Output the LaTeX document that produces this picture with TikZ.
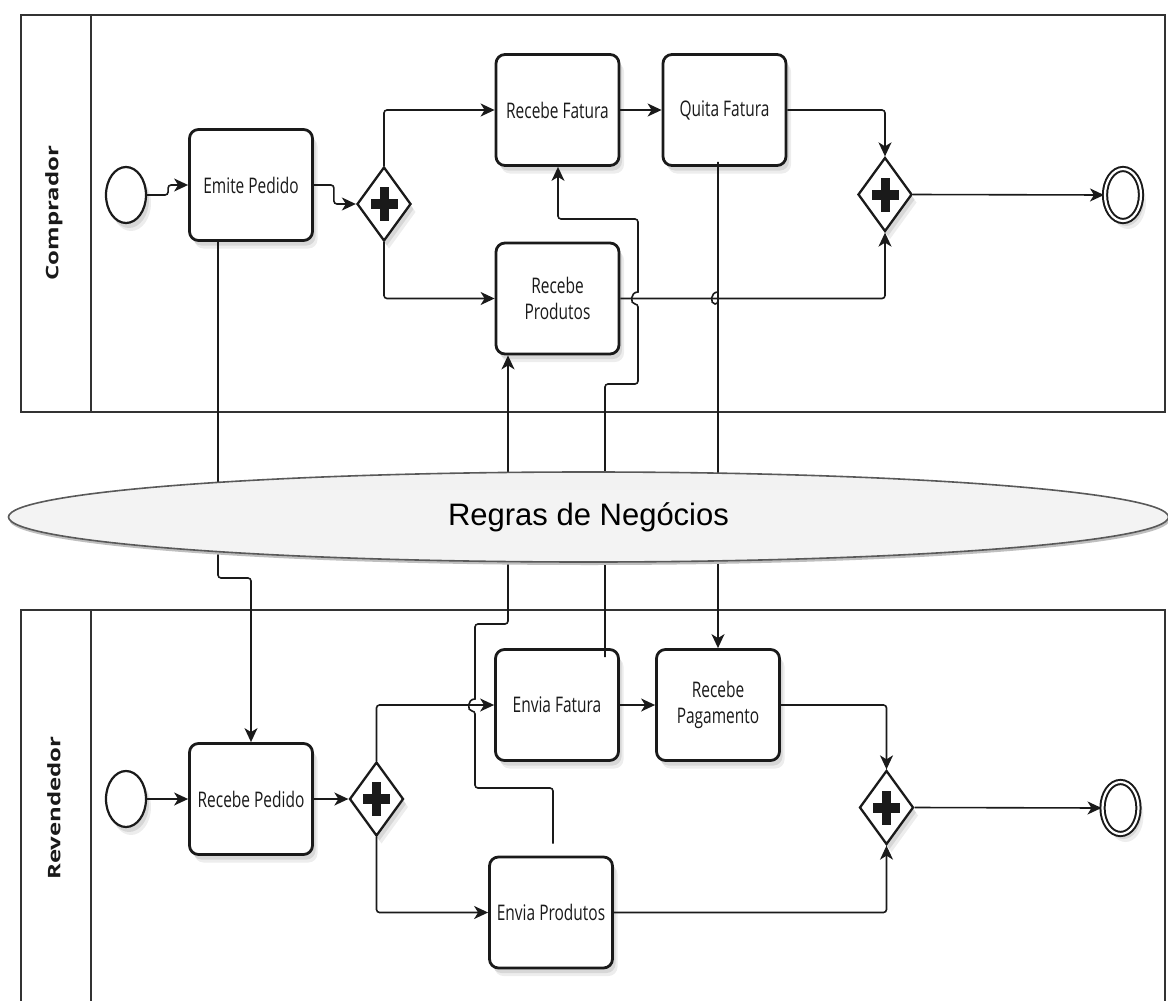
\documentclass[tikz,border=0pt]{standalone}
\usepackage{fontspec}
\usepackage{graphicx}
\usetikzlibrary{shapes.geometric,arrows.meta,shadows}
\newfontfamily\osans{Open Sans}
\newfontfamily\arialf{Liberation Sans}
\newcommand{\tk}[1]{\scalebox{0.72}[1]{#1}}
\newcommand{\lk}[1]{\scalebox{1}[0.72]{#1}}
\definecolor{ink}{HTML}{1A1A1A}
\begin{document}
\begin{tikzpicture}[x=1pt,y=-1pt,
  softshadow/.style={drop shadow={shadow xshift=5pt,shadow yshift=-8pt,opacity=0.07,fill=black},
                     drop shadow={shadow xshift=3pt,shadow yshift=-5pt,opacity=0.09,fill=black}},
  task/.style={draw=ink,line width=2.8pt,rounded corners=9pt,fill=white,
    minimum width=123pt,minimum height=111pt,inner sep=0pt,align=center,
    font=\osans\fontsize{21.5}{26}\selectfont,text=ink,softshadow},
  gw/.style={diamond,draw=ink,line width=2.3pt,fill=white,minimum width=54pt,
    minimum height=74pt,inner sep=0pt,softshadow},
  startev/.style={ellipse,draw=ink,line width=2.2pt,fill=white,minimum width=40pt,
    minimum height=56pt,inner sep=0pt,softshadow},
  endev/.style={ellipse,draw=ink,line width=2pt,double=white,double distance=2.2pt,
    fill=white,minimum width=36pt,minimum height=52pt,inner sep=0pt,softshadow},
  flow/.style={draw=ink,line width=1.6pt,rounded corners=3pt,
    -{Stealth[length=14pt,width=13pt,inset=4pt]}},
  lane/.style={draw=black!80,line width=1.5pt},
  lanelabel/.style={rotate=90,font=\osans\bfseries\fontsize{24}{26}\selectfont,text=ink}
]
\path[use as bounding box] (0,0) rectangle (1168,1001);
\clip (0,0) rectangle (1168,1001);
\fill[white] (0,0) rectangle (1168,1001);

% lanes
\draw[lane] (21,15) rectangle (1165,412);
\draw[lane] (91,15) -- (91,412);
\draw[lane] (21,1010) -- (21,610) -- (1165,610) -- (1165,1010);
\draw[lane] (91,610) -- (91,1010);
\node[lanelabel] (lcomp) at (54,213) {\lk{Comprador}};
\node[lanelabel] (lrev) at (54,808) {\lk{Revendedor}};

% top lane nodes
\node[startev] (s1) at (126,195) {};
\node[task] (emite) at (251,185) {\tk{Emite Pedido}};
\node[gw] (g1) at (384,204) {};
\node[task] (recfat) at (557.5,110) {\tk{Recebe Fatura}};
\node[task] (quita) at (724.5,110) {\tk{Quita Fatura}};
\node[task] (recprod) at (557.5,298.5) {\tk{Recebe}\\\tk{Produtos}};
\node[gw] (g2) at (885,194.5) {};
\node[endev] (e1) at (1123,195) {};

% bottom lane nodes
\node[startev] (s2) at (126,799) {};
\node[task] (recped) at (251,799) {\tk{Recebe Pedido}};
\node[gw] (g3) at (376.5,799) {};
\node[task] (envfat) at (557,705) {\tk{Envia Fatura}};
\node[task] (recpag) at (718,705) {\tk{Recebe}\\\tk{Pagamento}};
\node[task] (envprod) at (551,912.5) {\tk{Envia Produtos}};
\node[gw] (g4) at (886.5,807.5) {};
\node[endev] (e2) at (1120.5,808) {};

% plus signs
\foreach \g in {g1,g2,g3,g4}{
  \fill[ink] ([xshift=-4.5pt,yshift=17pt]\g.center) rectangle ([xshift=4.5pt,yshift=-17pt]\g.center);
  \fill[ink] ([xshift=-13.5pt,yshift=5pt]\g.center) rectangle ([xshift=13.5pt,yshift=-5pt]\g.center);
}

% top flows
\draw[flow] (s1.east) -- ++(21,0) |- (emite.west);
\draw[flow] (emite.east) -- ++(20,0) |- (g1.west);
\draw[flow] (g1.north) |- (recfat.west);
\draw[flow] (g1.south) |- (recprod.west);
\draw[flow] (recfat.east) -- (quita.west);
\draw[flow] (quita.east) -| (g2.north);
\draw[flow] (recprod.east) -| (g2.south);
\draw[flow] (g2.east) -- (e1.west);

% bottom flows
\draw[flow] (s2.east) -- (recped.west);
\draw[flow] (recped.east) -- (g3.west);
\draw[flow] (g3.north) |- (envfat.west);
\draw[flow] (g3.south) |- (envprod.west);
\draw[flow] (envfat.east) -- (recpag.west);
\draw[flow] (recpag.east) -| (g4.north);
\draw[flow] (envprod.east) -| (g4.south);
\draw[flow] (g4.east) -- (e2.west);

% cross-lane flows
\coordinate (bx) at (508,0);
\coordinate (cx) at (558,0);
\draw[flow] ([xshift=-33pt]emite.south) |- (235,578) -| (recped.north);
\draw[flow] ([xshift=2pt,yshift=12pt]envprod.north) -- (553,788) -- (475,788) -- (475,711)
  [sharp corners] .. controls (467,711) and (467,699) .. (475,699)
  [rounded corners=3pt] -- (475,624) -- (508,624) -- (recprod.south -| bx);
\draw[flow] ([xshift=48pt,yshift=-9pt]envfat.north) -- (605,384) -- (638,384) -- (638,304)
  [sharp corners] .. controls (630,304) and (630,292) .. (638,292)
  [rounded corners=3pt] -- (638,219) -- (558,219) -- (recfat.south -| cx);
\draw[flow] ([xshift=-6.5pt,yshift=5pt]quita.south) -- (718,304)
  [sharp corners] .. controls (710,304) and (710,292) .. (718,292)
  -- (recpag.north);

% business rules ellipse
\fill[gray!50] (589.5,520) ellipse [x radius=580, y radius=45];
\node[ellipse,draw=black!65,line width=1.6pt,top color=gray!10,middle color=gray!17,bottom color=gray!9,
  minimum width=1160pt,minimum height=90pt,inner sep=0pt,
  font=\arialf\fontsize{31}{33}\selectfont,text=black] (regras) at (588.5,517) {Regras de Negócios};
\end{tikzpicture}
\end{document}
